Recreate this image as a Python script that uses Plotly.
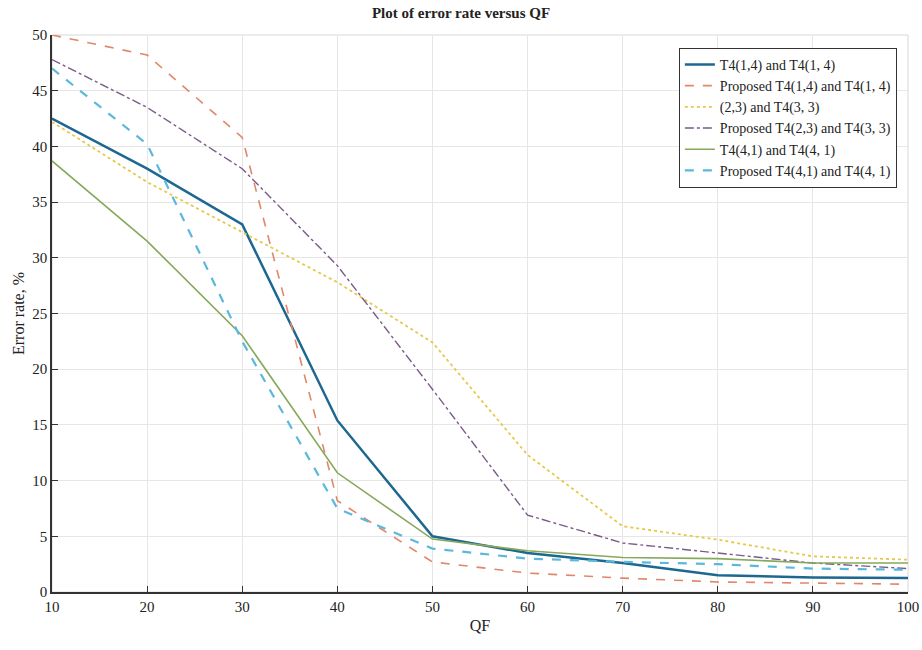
import plotly.graph_objects as go

qf = [10, 20, 30, 40, 50, 60, 70, 80, 90, 100]

t4_14 = [42.5, 38.0, 33.0, 15.4, 5.0, 3.5, 2.6, 1.5, 1.3, 1.25]
prop_t4_14 = [50.0, 48.2, 40.8, 8.2, 2.7, 1.7, 1.25, 0.9, 0.8, 0.7]
t4_23 = [42.2, 36.8, 32.3, 27.8, 22.4, 12.3, 5.9, 4.7, 3.2, 2.9]
prop_t4_23 = [47.8, 43.5, 38.0, 29.3, 18.2, 6.9, 4.4, 3.5, 2.6, 2.1]
t4_41 = [38.7, 31.5, 23.0, 10.7, 4.75, 3.7, 3.1, 3.0, 2.6, 2.6]
prop_t4_41 = [47.0, 40.2, 22.5, 7.5, 3.9, 3.0, 2.7, 2.5, 2.1, 2.0]

names = [
    "T4(1,4) and T4(1, 4)",
    "Proposed T4(1,4) and T4(1, 4)",
    "(2,3) and T4(3, 3)",
    "Proposed T4(2,3) and T4(3, 3)",
    "T4(4,1) and T4(4, 1)",
    "Proposed T4(4,1) and T4(4, 1)",
]
series = [t4_14, prop_t4_14, t4_23, prop_t4_23, t4_41, prop_t4_41]
colors = ["#1d6790", "#e0866a", "#e6c84a", "#7a5a8a", "#86a85a", "#5ab8dc"]
dashes = ["solid", "dash", "dot", "dashdot", "solid", "dash"]
widths = [2.5, 1.6, 1.8, 1.4, 1.6, 2.2]

fig = go.Figure()
for n, s, c, d, w in zip(names, series, colors, dashes, widths):
    fig.add_trace(go.Scatter(x=qf, y=s, mode="lines", name=n,
                             line=dict(color=c, dash=d, width=w)))

font_family = "Liberation Serif, Times New Roman, serif"
fig.update_layout(
    width=922, height=650,
    margin=dict(l=52, r=14, t=35, b=58),
    paper_bgcolor="white", plot_bgcolor="white",
    font=dict(family=font_family, size=15, color="#222"),
    title=dict(text="<b>Plot of error rate versus QF</b>", x=0.5, xanchor="center",
               y=0.988, yanchor="top", font=dict(size=15, family=font_family)),
    showlegend=True,
    legend=dict(x=0.987, y=0.977, xanchor="right", yanchor="top",
                bgcolor="white", bordercolor="#333", borderwidth=1,
                font=dict(size=14, family=font_family), tracegroupgap=0,
                itemwidth=30),
    xaxis=dict(range=[10, 100], tickvals=qf, showgrid=True, gridcolor="#e6e6e6",
               zeroline=False, showline=True, linecolor="#333", linewidth=1.5,
               mirror=False, ticks="inside", ticklen=6, tickcolor="#333",
               automargin=False,
               title=dict(text="QF", font=dict(size=16), standoff=6),
               tickfont=dict(size=15)),
    yaxis=dict(range=[0, 50], tickvals=list(range(0, 51, 5)), showgrid=True,
               gridcolor="#e6e6e6", zeroline=False, showline=True, linecolor="#333",
               linewidth=1.5, ticks="inside", ticklen=6, tickcolor="#333",
               automargin=False,
               title=dict(text="Error rate, %", font=dict(size=16), standoff=4),
               tickfont=dict(size=15)),
)
fig.add_shape(type="rect", xref="paper", yref="paper", x0=0, y0=0, x1=1, y1=1,
              line=dict(color="#d8d8d8", width=1), layer="below")

fig.write_html(
    "out.html",
    config={"displayModeBar": False},
    post_script="document.body.style.margin='0';document.body.style.overflow='hidden';",
)
